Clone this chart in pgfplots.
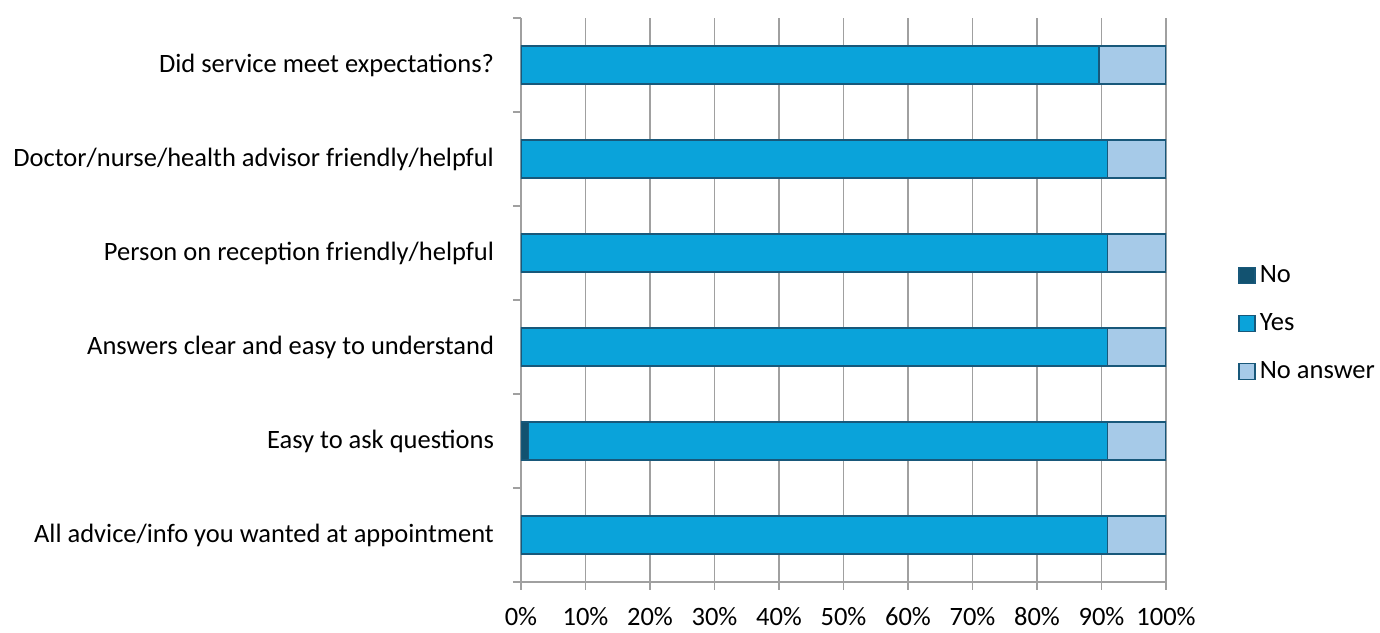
\documentclass[border=0pt]{standalone}
\usepackage{pgfplots}
\pgfplotsset{compat=1.18}
\usepackage{fontspec}
\setmainfont{Carlito}

\definecolor{cno}{RGB}{18,82,112}
\definecolor{cyes}{RGB}{10,163,218}
\definecolor{cna}{RGB}{166,202,232}
\definecolor{cedge}{RGB}{24,88,122}
\definecolor{gridgray}{RGB}{160,160,160}

\begin{document}
\begin{tikzpicture}
\begin{axis}[
  scale only axis,
  width=322.5pt, height=282pt,
  xbar stacked,
  bar width=19pt,
  xmin=0, xmax=100,
  ymin=-0.5, ymax=5.5,
  font=\fontsize{13.25}{15}\selectfont,
  /pgf/number format/assume math mode=true,
  axis x line*=bottom,
  axis y line*=left,
  axis line style={gridgray, line width=0.75pt},
  xtick={0,10,...,100},
  xticklabel={\pgfmathprintnumber{\tick}\%},
  xmajorgrids,
  grid style={gridgray, line width=0.75pt},
  major tick length=4pt,
  tick align=outside,
  tick style={gridgray, line width=0.75pt},
  xticklabel style={yshift=-5pt},
  ytick={0,...,5},
  yticklabels={All advice/info you wanted at appointment,
    Easy to ask questions,
    Answers clear and easy to understand,
    Person on reception friendly/helpful,
    Doctor/nurse/health advisor friendly/helpful,
    Did service meet expectations?},
  ytick style={draw=none},
  yticklabel style={xshift=-6pt},
  extra y ticks={-0.5,0.5,...,5.5},
  extra y tick labels={},
  extra y tick style={ytick style={draw=gridgray, line width=0.75pt}},
  legend style={draw=none, at={(1.112,0.458)}, anchor=west,
    inner xsep=0pt, outer sep=0pt,
    row sep=10pt, font=\fontsize{13.25}{15}\selectfont},
  legend cell align=left,
  legend image code/.code={\draw[#1, line width=0.8pt] (0pt,-4pt) rectangle (8pt,4pt);},
]
\addplot[fill=cno, draw=cedge, line width=0.75pt] coordinates
  {(0,0) (1.2,1) (0,2) (0,3) (0,4) (0,5)};
\addlegendentry{No}
\addplot[fill=cyes, draw=cedge, line width=0.75pt] coordinates
  {(90.9,0) (89.7,1) (90.9,2) (90.9,3) (90.9,4) (89.6,5)};
\addlegendentry{Yes}
\addplot[fill=cna, draw=cedge, line width=0.75pt] coordinates
  {(9.1,0) (9.1,1) (9.1,2) (9.1,3) (9.1,4) (10.4,5)};
\addlegendentry{No answer}
\end{axis}
\path ([shift={(-260.5pt,9pt)}]current axis.north west)
      ([shift={(107pt,-24pt)}]current axis.south east);
\end{tikzpicture}
\end{document}
